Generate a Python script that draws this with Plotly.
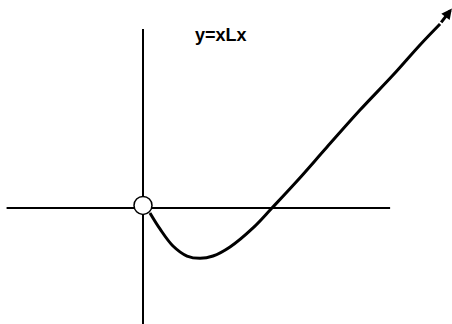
import plotly.graph_objects as go

# points (units: 1 = distance from origin to the root)
curve_x = [0.054, 0.132, 0.233, 0.342, 0.443, 0.544, 0.676, 0.855, 1.002,
           1.197, 1.43, 1.686, 1.943, 2.152, 2.308]
curve_y = [-0.039, -0.163, -0.295, -0.373, -0.391, -0.373, -0.303, -0.155, 0.0,
           0.21, 0.474, 0.761, 1.033, 1.267, 1.43]
arrow_tip = (2.40, 1.55)

h_axis_x = [-1.06, 1.92]
v_axis_y = [-0.91, 1.39]

title = "y=xLx"

fig = go.Figure()

# axes drawn by hand
fig.add_trace(go.Scatter(x=h_axis_x, y=[0, 0], mode="lines",
                         line=dict(color="black", width=2)))
fig.add_trace(go.Scatter(x=[0, 0], y=v_axis_y, mode="lines",
                         line=dict(color="black", width=2)))

# the curve
fig.add_trace(go.Scatter(x=curve_x, y=curve_y, mode="lines",
                         line=dict(color="black", width=3, shape="spline")))

# open point at the origin
fig.add_trace(go.Scatter(x=[0], y=[0.02], mode="markers",
                         marker=dict(size=18, color="white",
                                     line=dict(color="black", width=1.5))))

# arrow head at the end of the curve
fig.add_annotation(x=arrow_tip[0], y=arrow_tip[1], ax=curve_x[-1], ay=curve_y[-1],
                   xref="x", yref="y", axref="x", ayref="y", text="",
                   showarrow=True, arrowhead=2, arrowsize=0.7, arrowwidth=3,
                   arrowcolor="black")

fig.add_annotation(x=0.606, y=1.344, xref="x", yref="y", text="<b>" + title + "</b>",
                   showarrow=False, yanchor="middle",
                   font=dict(family="Liberation Sans, Arial", size=18, color="black"))

fig.update_layout(
    width=452, height=324,
    margin=dict(l=0, r=0, t=0, b=0),
    paper_bgcolor="white", plot_bgcolor="white",
    showlegend=False,
    xaxis=dict(range=[-1.1111, 2.4009], visible=False, fixedrange=True),
    yaxis=dict(range=[-0.9013, 1.6162], visible=False, fixedrange=True),
)

fig.write_html("out.html", config={"displayModeBar": False},
               post_script="document.body.style.margin='0';document.body.style.overflow='hidden';")
